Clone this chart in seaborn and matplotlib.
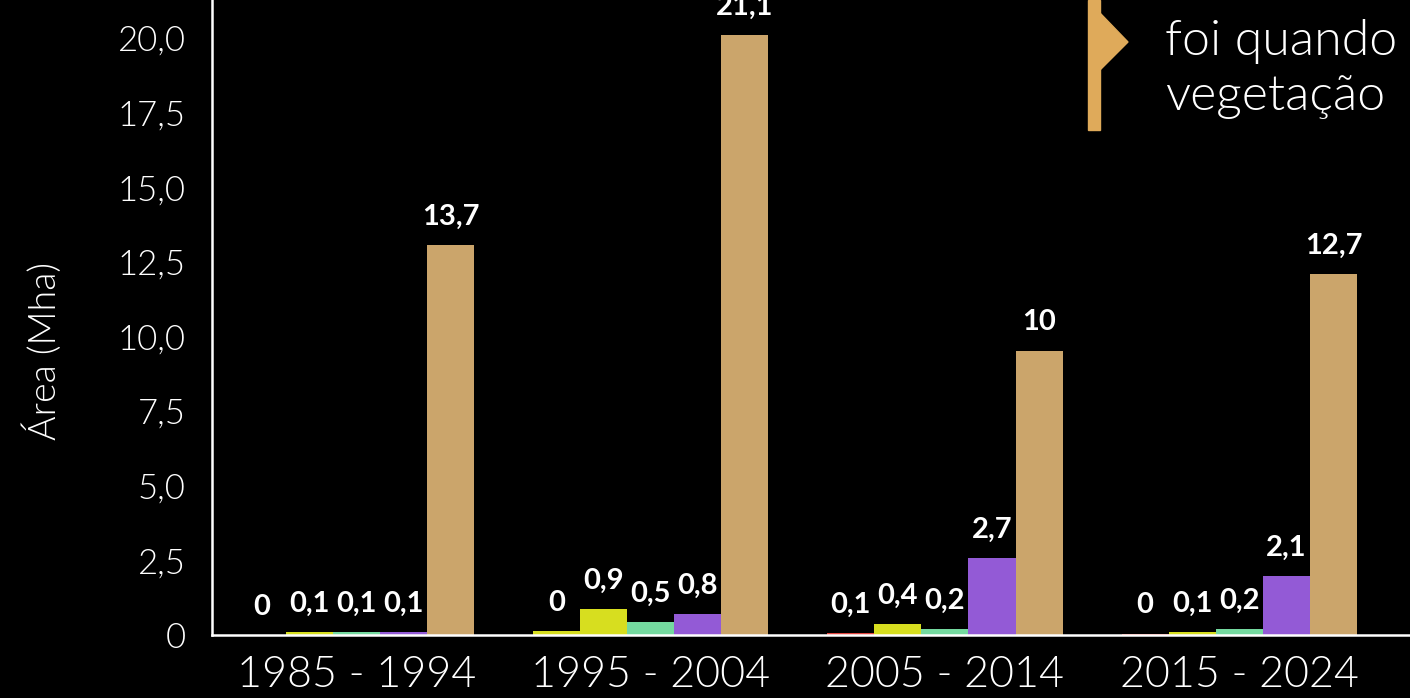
import numpy as np
import pandas as pd
import seaborn as sns
import matplotlib.pyplot as plt
from matplotlib.patches import Polygon, Rectangle

# ---------------- data ----------------
periods = ["1985 - 1994", "1995 - 2004", "2005 - 2014", "2015 - 2024"]
series_names = ["Classe 1", "Classe 2", "Classe 3", "Classe 4", "Classe 5"]

red_vals = [0.0, 0.14, 0.07, 0.05]
yellow_vals = [0.12, 0.92, 0.39, 0.11]
green_vals = [0.12, 0.46, 0.21, 0.22]
purple_vals = [0.12, 0.75, 2.72, 2.08]
tan_vals = [13.7, 21.1, 10.0, 12.7]

red_labels = ["0", "0", "0,1", "0"]
yellow_labels = ["0,1", "0,9", "0,4", "0,1"]
green_labels = ["0,1", "0,5", "0,2", "0,2"]
purple_labels = ["0,1", "0,8", "2,7", "2,1"]
tan_labels = ["13,7", "21,1", "10", "12,7"]

series_colors = ["#e0433d", "#d7de1f", "#74d99f", "#935ad6", "#cba56b"]

y_ticks = [0, 2.5, 5, 7.5, 10, 12.5, 15, 17.5, 20]
y_tick_labels = ["0", "2,5", "5,0", "7,5", "10,0", "12,5", "15,0", "17,5", "20,0"]
AXIS_SCALE = 1.05  # axis tick labels are scaled relative to bar values in the original

y_label = "Área (Mha)"
note_lines = ["foi quando", "vegetação"]

# ---------------- build ----------------
all_vals = [red_vals, yellow_vals, green_vals, purple_vals, tan_vals]
all_labels = [red_labels, yellow_labels, green_labels, purple_labels, tan_labels]

rows = []
for name, vals in zip(series_names, all_vals):
    for p, v in zip(periods, vals):
        rows.append({"periodo": p, "serie": name, "area": v})
df = pd.DataFrame(rows)

sns.set_theme(style="white")
plt.rcParams["font.family"] = ["Lato", "DejaVu Sans"]
LIGHT = 300

W, H = 1410, 698
fig = plt.figure(figsize=(W / 100, H / 100), dpi=100, facecolor="black")
ax = fig.add_axes([212 / W, 63 / H, 1 - 212 / W, 1 - 63 / H])
ax.set_facecolor("black")

sns.barplot(data=df, x="periodo", y="area", hue="serie", order=periods,
            hue_order=series_names, palette=dict(zip(series_names, series_colors)),
            width=0.8, saturation=1, errorbar=None, legend=False,
            linewidth=0, edgecolor="none", ax=ax)

# in the original the first bar of the second period is drawn in yellow
ax.containers[0][1].set_facecolor(series_colors[1])

for cont, labs in zip(ax.containers, all_labels):
    for bar, lab in zip(cont, labs):
        ax.annotate(lab, (bar.get_x() + bar.get_width() / 2, bar.get_height()),
                    xytext=(0, 14.5), textcoords="offset points",
                    ha="center", va="baseline", color="white",
                    fontsize=21, fontweight="bold")

ax.set_xlim(-0.49, 3.58)
ax.set_ylim(0, 22.33)
ax.set_yticks([t * AXIS_SCALE for t in y_ticks], y_tick_labels)
ax.set_xlabel("")
ax.set_ylabel("")

for s in ["top", "right"]:
    ax.spines[s].set_visible(False)
for s in ["left", "bottom"]:
    ax.spines[s].set_color("white")
    ax.spines[s].set_linewidth(1.8)

ax.tick_params(axis="y", length=0, pad=19, labelsize=25, labelcolor="white")
ax.tick_params(axis="x", length=0, pad=15, labelsize=31, labelcolor="white")
for t in ax.get_xticklabels() + ax.get_yticklabels():
    t.set_fontweight(LIGHT)

fig.text(43 / W, 1 - 351 / H, y_label, rotation=90, ha="center", va="center",
         color="white", fontsize=27, fontweight=LIGHT)

# decorative marker and note (top right)
deco = "#dfaa5a"
fig.patches.append(Rectangle((1088 / W, 1 - 130 / H), 12 / W, 130 / H,
                             transform=fig.transFigure, color=deco, zorder=5))
fig.patches.append(Polygon([(1100 / W, 1 - 13 / H), (1128 / W, 1 - 42 / H), (1100 / W, 1 - 70 / H)],
                           closed=True, transform=fig.transFigure, color=deco, zorder=5))
fig.text(1165 / W, 1 - 55 / H, note_lines[0], ha="left", va="baseline",
         color="white", fontsize=36, fontweight=LIGHT)
fig.text(1165 / W, 1 - 110 / H, note_lines[1], ha="left", va="baseline",
         color="white", fontsize=36, fontweight=LIGHT)

fig.savefig("out.png", dpi=100, facecolor="black")
